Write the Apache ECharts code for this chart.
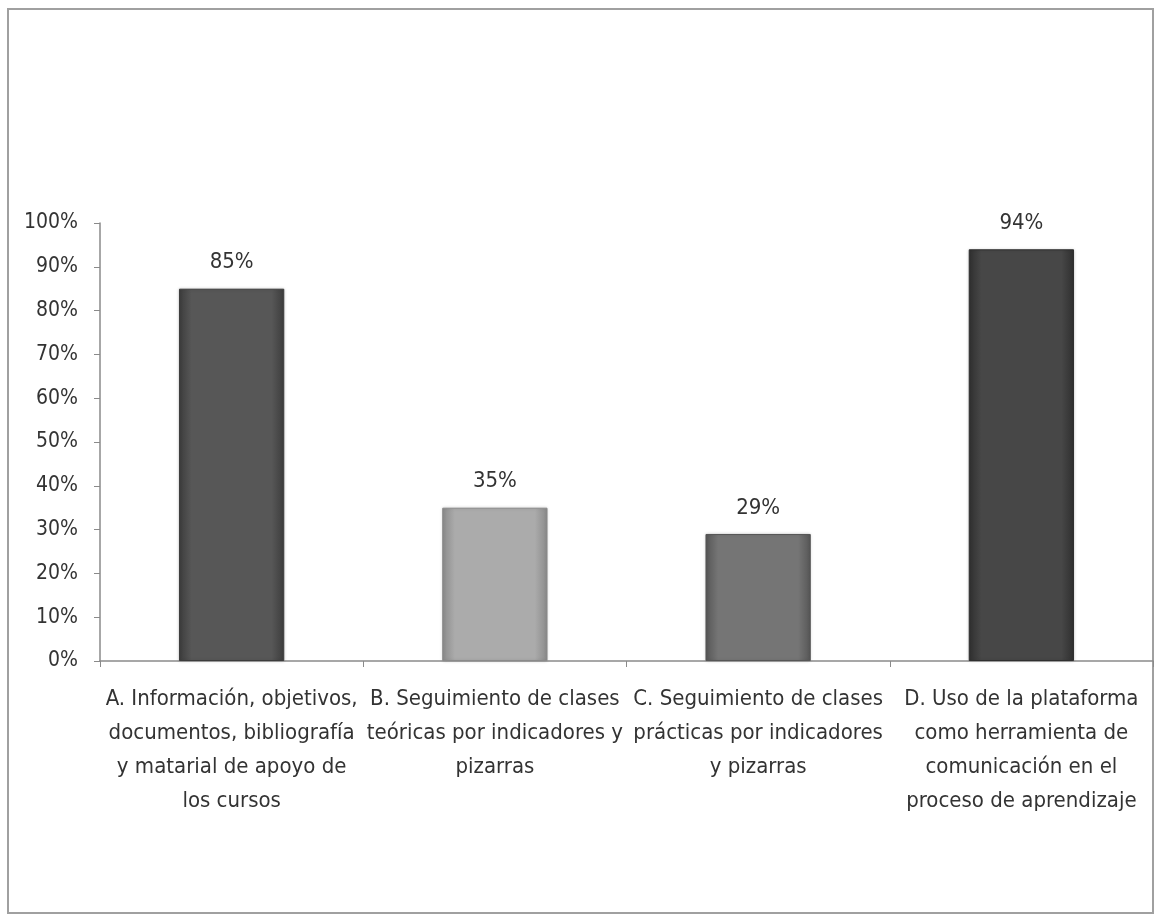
<!DOCTYPE html>
<html>
<head>
<meta charset="utf-8">
<script src="https://cdn.jsdelivr.net/npm/echarts@6/dist/echarts.min.js"></script>
<style>
html,body{margin:0;padding:0;background:#fff;}
#chart{width:1157px;height:924px;}
</style>
</head>
<body>
<div id="chart"></div>
<script>
var categories = [
  "A. Información, objetivos,\ndocumentos, bibliografía\ny matarial de apoyo de\nlos cursos",
  "B. Seguimiento de clases\nteóricas por indicadores y\npizarras",
  "C. Seguimiento de clases\nprácticas por indicadores\ny pizarras",
  "D. Uso de la plataforma\ncomo herramienta de\ncomunicación en el\nproceso de aprendizaje"
];
var values = [85, 35, 29, 94];
var barColors = [
  ["#3c3c3c", "#575757"],
  ["#8a8a8a", "#ababab"],
  ["#565656", "#757575"],
  ["#2f2f2f", "#474747"]
];
var yTicks = [0, 10, 20, 30, 40, 50, 60, 70, 80, 90, 100];

var FONT = '"Liberation Sans Narrow", "DejaVu Sans Condensed", "Noto Sans", sans-serif';

function grad(c) {
  return new echarts.graphic.LinearGradient(0, 0, 1, 0, [
    {offset: 0, color: c[0]},
    {offset: 0.12, color: c[1]},
    {offset: 0.88, color: c[1]},
    {offset: 1, color: c[0]}
  ]);
}

var chart = echarts.init(document.getElementById('chart'), null, {renderer: 'canvas'});
chart.setOption({
  animation: false,
  backgroundColor: '#ffffff',
  graphic: [{
    type: 'rect',
    shape: {x: 8, y: 9, width: 1145, height: 904},
    style: {fill: 'none', stroke: '#a0a0a0', lineWidth: 2},
    silent: true
  }],
  grid: {left: 100, right: 4, top: 223, bottom: 263, containLabel: false},
  xAxis: {
    type: 'category',
    data: categories,
    axisLine: {lineStyle: {color: '#8a8a8a', width: 1.5}},
    axisTick: {show: true, length: 6, lineStyle: {color: '#8a8a8a'}},
    axisLabel: {
      interval: 0,
      margin: 21,
      fontFamily: FONT,
      fontSize: 22,
      lineHeight: 34,
      color: '#333333',
      align: 'center'
    }
  },
  yAxis: {
    type: 'value',
    min: 0,
    max: 100,
    interval: 10,
    axisLine: {show: true, lineStyle: {color: '#8a8a8a', width: 1.5}},
    axisTick: {show: true, length: 6, lineStyle: {color: '#8a8a8a'}},
    splitLine: {show: false},
    axisLabel: {
      margin: 22,
      fontFamily: FONT,
      fontSize: 21,
      color: '#333333',
      formatter: function (v) { return yTicks.indexOf(v) >= 0 ? v + '%' : ''; }
    }
  },
  series: [{
    type: 'bar',
    barWidth: '40%',
    data: values.map(function (v, i) {
      return {
        value: v,
        itemStyle: {
          color: grad(barColors[i]),
          borderColor: barColors[i][0],
          borderWidth: 1,
          shadowColor: 'rgba(0,0,0,0.15)',
          shadowBlur: 3
        }
      };
    }),
    label: {
      show: true,
      position: 'top',
      distance: 15,
      fontFamily: FONT,
      fontSize: 22,
      color: '#333333',
      formatter: function (p) { return p.value + '%'; }
    }
  }]
});
</script>
</body>
</html>
